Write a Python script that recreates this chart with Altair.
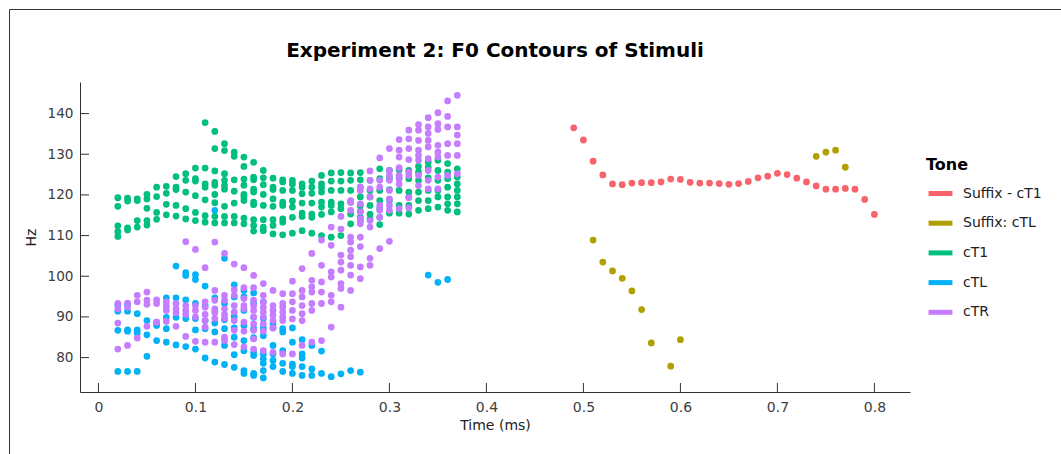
import altair as alt
import pandas as pd

TONES = ["Suffix - cT1", "Suffix: cTL", "cT1", "cTL", "cTR"]
COLORS = ["#F8626A", "#B09F00", "#00BE7E", "#00B2F5", "#C67CFF"]

X_TICKS = [0, 0.1, 0.2, 0.3, 0.4, 0.5, 0.6, 0.7, 0.8]
Y_TICKS = [80, 90, 100, 110, 120, 130, 140]

# Suffix - cT1 (one contour)
SUFFIX_CT1_TIME = [0.49, 0.50, 0.51, 0.52, 0.53, 0.54, 0.55, 0.56, 0.57, 0.58, 0.59,
                   0.60, 0.61, 0.62, 0.63, 0.64, 0.65, 0.66, 0.67, 0.68, 0.69, 0.70,
                   0.71, 0.72, 0.73, 0.74, 0.75, 0.76, 0.77, 0.78, 0.79, 0.80]
SUFFIX_CT1_HZ = [136.5, 133.5, 128.3, 124.9, 122.7, 122.5, 122.9, 123.0, 123.0, 123.2, 123.9,
                 123.8, 123.1, 122.9, 122.9, 122.8, 122.6, 122.8, 123.3, 124.2, 124.6, 125.3,
                 125.0, 124.1, 123.2, 122.2, 121.4, 121.4, 121.6, 121.4, 118.9, 115.2]

# Suffix: cTL
SUFFIX_CTL_TIME = [0.51, 0.52, 0.53, 0.54, 0.55, 0.56, 0.57, 0.59, 0.60, 0.74, 0.75, 0.76, 0.77]
SUFFIX_CTL_HZ = [108.9, 103.5, 101.3, 99.5, 96.4, 91.8, 83.6, 77.9, 84.4, 129.5, 130.5, 131.0, 126.8]

# cT1: values per time column
CT1_TIME = [0.02, 0.03, 0.04, 0.05, 0.06, 0.07, 0.08, 0.09, 0.10, 0.11, 0.12, 0.13,
            0.14, 0.15, 0.16, 0.17, 0.18, 0.19, 0.20, 0.21, 0.22, 0.23, 0.24, 0.25,
            0.26, 0.27, 0.28, 0.29, 0.30, 0.31, 0.32, 0.33, 0.34, 0.35, 0.36, 0.37]
CT1_HZ = [
    [119.3, 117.2, 112.4, 111.0, 109.8],
    [119.2, 118.5, 111.9, 111.4],
    [119.0, 118.6, 113.7, 112.1],
    [120.1, 119.0, 116.7, 113.7, 112.6],
    [121.9, 119.6, 115.7, 114.0],
    [122.1, 120.4, 117.7, 115.1],
    [124.5, 121.9, 121.3, 117.4, 114.8],
    [125.2, 123.6, 120.7, 116.6, 114.1],
    [126.6, 124.0, 123.4, 119.8, 115.7, 113.7],
    [137.8, 126.6, 122.7, 121.9, 118.8, 114.9, 113.3],
    [135.6, 131.4, 125.9, 123.1, 122.4, 120.1, 118.1, 114.7, 113.1],
    [132.6, 130.9, 125.2, 123.6, 122.3, 121.4, 117.2, 114.7, 113.1],
    [130.5, 129.5, 123.7, 120.9, 118.0, 114.7, 113.1],
    [129.3, 127.0, 123.9, 122.4, 120.1, 119.5, 118.6, 114.3, 112.9],
    [128.0, 124.4, 123.7, 121.4, 120.7, 118.2, 117.6, 113.9, 112.5, 111.1],
    [126.0, 124.2, 122.5, 120.1, 117.4, 113.9, 112.1, 111.2],
    [124.1, 121.9, 121.3, 119.0, 117.2, 113.9, 112.5, 110.4],
    [123.7, 123.2, 121.1, 118.2, 117.4, 114.1, 113.3, 110.2],
    [123.6, 122.7, 121.1, 118.5, 117.0, 114.5, 110.6],
    [122.7, 121.9, 120.3, 118.0, 115.5, 114.7, 111.2],
    [123.4, 121.9, 120.4, 118.0, 115.3, 114.5, 110.6],
    [124.8, 122.7, 121.8, 120.7, 118.2, 117.0, 115.2, 110.0],
    [125.4, 123.4, 121.1, 118.2, 117.4, 115.8, 109.6],
    [125.5, 123.4, 121.1, 117.8, 116.6, 110.0],
    [125.4, 123.6, 121.1, 118.2, 115.3, 112.9],
    [125.5, 123.7, 121.9, 119.5, 117.4, 116.0, 114.5, 113.7],
    [123.6, 121.1, 119.5, 117.4, 115.3, 114.1],
    [126.4, 124.0, 121.1, 118.6, 116.6, 114.5, 112.7],
    [126.0, 124.2, 121.3, 118.6, 115.5],
    [126.2, 124.2, 121.1, 117.4, 115.5],
    [126.0, 124.0, 120.7, 119.5, 117.4, 115.3],
    [127.0, 125.6, 123.6, 120.7, 118.6, 116.2],
    [128.1, 126.8, 124.2, 121.1, 118.6, 116.6],
    [128.5, 126.0, 123.6, 121.1, 119.5, 117.0],
    [127.7, 125.6, 124.0, 121.9, 119.5, 117.8, 116.2],
    [126.4, 124.4, 122.7, 121.1, 119.5, 117.8, 115.8],
]

# cTL
CTL_TIME = [0.02, 0.03, 0.04, 0.05, 0.06, 0.07, 0.08, 0.09, 0.10, 0.11, 0.12, 0.13,
            0.14, 0.15, 0.16, 0.17, 0.18, 0.19, 0.20, 0.21, 0.22, 0.23, 0.24, 0.25,
            0.26, 0.27, 0.34, 0.35, 0.36]
CTL_HZ = [
    [92.9, 91.4, 86.7, 76.6],
    [93.0, 91.4, 86.8, 86.5, 76.6],
    [90.8, 86.8, 86.0, 76.6],
    [89.1, 85.6, 80.3],
    [88.7, 87.9, 84.2],
    [94.7, 89.9, 87.1, 83.8],
    [102.5, 94.7, 89.9, 83.1],
    [100.9, 100.2, 94.2, 89.6, 82.7],
    [100.4, 99.2, 93.3, 89.6, 86.8, 82.1],
    [97.6, 92.8, 89.1, 87.1, 79.9],
    [116.2, 94.7, 91.4, 88.5, 86.3, 78.9],
    [104.4, 93.3, 89.3, 87.1, 83.0, 78.3],
    [97.9, 94.9, 90.1, 87.3, 85.0, 80.7, 77.6],
    [96.5, 94.9, 91.6, 87.9, 84.2, 81.7, 76.8, 76.1],
    [95.9, 93.3, 89.9, 87.1, 84.9, 81.3, 80.5, 76.1, 75.6],
    [93.7, 89.6, 87.3, 85.4, 80.9, 79.7, 78.6, 76.8, 75.0],
    [88.3, 87.3, 83.0, 80.9, 79.3, 77.8],
    [87.1, 86.3, 81.7, 78.6, 76.6],
    [87.3, 83.8, 78.4, 77.8, 76.1],
    [84.4, 80.9, 79.9, 77.8, 75.6],
    [83.0, 77.2, 75.6],
    [81.6, 76.1],
    [75.3],
    [76.0],
    [76.8],
    [76.4],
    [100.3],
    [98.5],
    [99.2],
]

# cTR
CTR_TIME = CT1_TIME
CTR_HZ = [
    [93.3, 92.0, 88.5, 82.1],
    [93.4, 92.4, 83.0],
    [95.3, 93.7, 84.8],
    [96.1, 94.1, 93.1, 87.7],
    [94.2, 93.3, 88.7],
    [93.7, 92.6, 91.6, 88.9],
    [93.3, 92.0, 91.0, 87.7],
    [108.5, 92.8, 91.6, 90.6, 85.2],
    [106.6, 92.8, 91.6, 90.0, 84.0],
    [102.1, 93.7, 92.4, 90.6, 89.1, 87.5, 83.8],
    [108.4, 96.5, 94.1, 92.0, 91.0, 89.6, 83.8],
    [105.6, 95.3, 94.1, 92.0, 90.6, 89.6, 85.0, 84.2],
    [103.0, 96.7, 95.3, 92.8, 91.2, 89.1, 86.7, 83.2],
    [102.1, 97.2, 94.5, 92.8, 92.0, 88.7, 86.5, 82.6],
    [100.2, 97.2, 94.1, 92.8, 91.6, 90.0, 88.3, 86.7, 84.6, 82.1],
    [98.2, 95.3, 93.7, 92.4, 91.2, 90.0, 88.3, 86.5, 81.7],
    [96.5, 92.8, 91.6, 90.4, 89.1, 87.3, 81.3],
    [95.7, 93.3, 92.4, 91.2, 90.0, 89.1, 80.9],
    [98.8, 95.7, 93.7, 91.6, 89.5, 80.9],
    [101.9, 96.5, 94.9, 92.8, 90.8, 89.1, 83.0],
    [105.6, 99.0, 97.4, 96.1, 93.3, 91.6, 83.8],
    [108.9, 102.7, 98.6, 96.1, 93.3, 84.2],
    [112.1, 107.6, 101.1, 99.8, 95.3, 93.7, 87.5],
    [114.7, 111.6, 105.2, 103.5, 101.5, 98.2, 97.0, 92.4],
    [118.6, 118.2, 116.2, 109.6, 108.4, 106.4, 104.8, 102.7, 100.3, 96.5],
    [121.9, 121.1, 117.8, 115.8, 114.1, 112.9, 109.6, 107.3, 102.3, 99.4],
    [125.9, 123.6, 121.5, 119.5, 113.7, 112.1, 104.4, 102.7],
    [129.1, 123.6, 121.9, 117.4, 116.2, 114.5, 106.8],
    [131.4, 126.0, 124.8, 123.6, 121.1, 119.0, 117.4, 116.2, 108.6],
    [133.6, 131.0, 129.3, 126.7, 124.8, 124.0, 122.7, 116.6],
    [135.9, 133.8, 131.4, 128.7, 125.6, 124.8, 119.3, 116.8],
    [137.3, 135.9, 133.4, 131.0, 129.7, 128.5, 124.8, 122.3],
    [139.0, 136.7, 135.1, 133.4, 131.8, 128.9, 126.0, 123.6, 121.5],
    [140.2, 137.5, 136.1, 132.2, 130.5, 129.3, 124.4, 121.5],
    [143.1, 139.3, 136.7, 132.6, 129.7, 124.8],
    [144.5, 136.7, 134.7, 132.6, 129.7, 125.2],
]

rows = []
for t, h in zip(SUFFIX_CT1_TIME, SUFFIX_CT1_HZ):
    rows.append({"time": t, "hz": h, "tone": "Suffix - cT1"})
for t, h in zip(SUFFIX_CTL_TIME, SUFFIX_CTL_HZ):
    rows.append({"time": t, "hz": h, "tone": "Suffix: cTL"})
for name, times, cols in [("cT1", CT1_TIME, CT1_HZ), ("cTL", CTL_TIME, CTL_HZ), ("cTR", CTR_TIME, CTR_HZ)]:
    for t, col in zip(times, cols):
        for h in col:
            rows.append({"time": t, "hz": h, "tone": name})
df = pd.DataFrame(rows)

W, H = 830, 310
FONT = "DejaVu Sans"
AX = "#333333"
LAB = "#404040"

xscale = alt.Scale(domain=[-0.019, 0.8367], nice=False, zero=False)
yscale = alt.Scale(domain=[71.54, 147.76], nice=False, zero=False)

xaxis = alt.Axis(values=X_TICKS, format="~g", title="Time (ms)", ticks=False, grid=False,
                 labelPadding=8, titlePadding=4, labelFontSize=14, titleFontSize=14,
                 labelColor=LAB, titleColor="#222222", titleFontWeight="normal",
                 domainColor=AX, labelFont=FONT, titleFont=FONT)
yaxis = alt.Axis(values=Y_TICKS, title="Hz", ticks=False, grid=False,
                 labelPadding=7, titlePadding=9, labelFontSize=13.6, titleFontSize=14,
                 labelColor=LAB, titleColor="#222222", titleFontWeight="normal",
                 domainColor=AX, labelFont=FONT, titleFont=FONT)

points = alt.Chart(df).mark_point(filled=False, size=10, strokeWidth=3.6, opacity=1).encode(
    x=alt.X("time:Q", scale=xscale, axis=xaxis),
    y=alt.Y("hz:Q", scale=yscale, axis=yaxis),
    color=alt.Color("tone:N", scale=alt.Scale(domain=TONES, range=COLORS),
                    legend=alt.Legend(title="Tone", orient="none", legendX=846, legendY=75,
                                      symbolType="stroke", symbolSize=570, symbolStrokeWidth=5,
                                      rowPadding=4.7, labelOffset=8, titlePadding=6, padding=0,
                                      labelFontSize=14, titleFontSize=16, titleFontWeight="bold",
                                      labelFont=FONT, titleFont=FONT, labelColor="#222222",
                                      titleColor="#000000")),
)

xticks = alt.Chart(pd.DataFrame({"time": X_TICKS})).mark_rule(color=AX, strokeWidth=1).encode(
    x=alt.X("time:Q", scale=xscale, axis=xaxis), y=alt.value(H), y2=alt.value(H - 9))
yticks = alt.Chart(pd.DataFrame({"hz": Y_TICKS})).mark_rule(color=AX, strokeWidth=1).encode(
    y=alt.Y("hz:Q", scale=yscale, axis=yaxis), x=alt.value(0), x2=alt.value(9))

border = alt.Chart(pd.DataFrame({"a": [0]})).mark_rect(fillOpacity=0, stroke="#333333", strokeWidth=1).encode(
    x=alt.value(-70.5), x2=alt.value(1300), y=alt.value(-72.5), y2=alt.value(800))

chart = alt.layer(border, xticks, yticks, points).properties(
    width=W, height=H,
    title=alt.Title("Experiment 2: F0 Contours of Stimuli", fontSize=20, fontWeight="bold",
                    font=FONT, color="#000000", anchor="middle", frame="group",
                    baseline="alphabetic", offset=0, dy=67.5),
    autosize=alt.AutoSizeParams(type="none"),
    padding={"left": 80, "top": 82, "right": 151, "bottom": 62},
).configure(font=FONT).configure_view(strokeWidth=0)

chart.save("out.html", embed_options={"renderer": "svg", "actions": False})
